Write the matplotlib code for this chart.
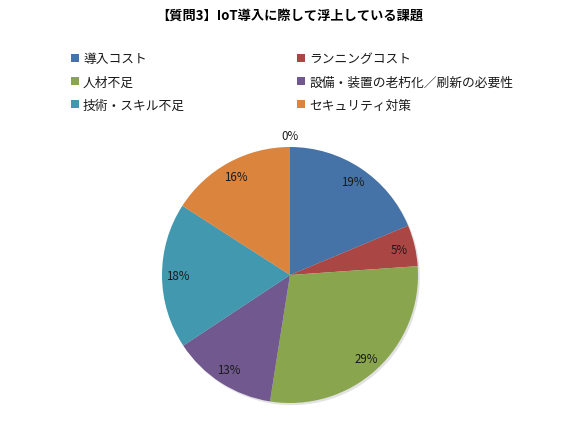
import matplotlib
matplotlib.use("Agg")
import matplotlib.pyplot as plt
from matplotlib.patches import Rectangle
import numpy as np

plt.rcParams['font.family'] = ['Noto Sans CJK JP', 'DejaVu Sans']

title = "【質問3】IoT導入に際して浮上している課題"
categories = ["導入コスト", "ランニングコスト", "人材不足", "設備・装置の老朽化／刷新の必要性",
              "技術・スキル不足", "セキュリティ対策", "その他"]
values = [18.7, 5.2, 28.6, 13.2, 18.4, 15.9, 0.0]
colors = ["#4572A7", "#AA4643", "#89A54E", "#71588F", "#4198AF", "#DB843D", "#7F7F7F"]
legend_count = 6

W, H = 580, 435
fig = plt.figure(figsize=(W / 100, H / 100), dpi=100)
fig.patch.set_facecolor("white")

# pie axes: centre (290, 276) px, radius 128 px
cx, cy, r = 290, 276, 128
ax = fig.add_axes([(cx - r) / W, (H - cy - r) / H, 2 * r / W, 2 * r / H])
wedges, texts, autotexts = ax.pie(
    values, colors=colors, startangle=90, counterclock=False, radius=1,
    autopct=lambda p: f"{p:.0f}%", pctdistance=0.88,
    textprops=dict(fontsize=8.3, color="#1a1a1a"),
    wedgeprops=dict(linewidth=0),
    shadow=dict(ox=0.01, oy=-0.012, facecolor="#a0a0a0", edgecolor="none", alpha=0.3),
)
for w, t, v in zip(wedges, autotexts, values):
    if v == 0:
        ang = np.deg2rad((w.theta1 + w.theta2) / 2)
        t.set_position((1.09 * np.cos(ang), 1.09 * np.sin(ang)))
        t.set_ha("center")
        t.set_va("center")
ax.set_xlim(-1, 1)
ax.set_ylim(-1, 1)
ax.set_aspect("equal")
ax.axis("off")

fig.text(cx / W, 1 - 16 / H, title, ha="center", va="center", fontsize=9.5, fontweight="bold")

# legend: two columns, row-wise ordering
col_x = [71, 297]
row_y = [60, 83, 106]
ms = 8
for i in range(legend_count):
    row, col = divmod(i, 2)
    x = col_x[col]
    y = row_y[row]
    fig.patches.append(Rectangle((x / W, 1 - (y + ms / 2 - 1) / H), ms / W, ms / H,
                                 transform=fig.transFigure, facecolor=colors[i],
                                 edgecolor="none"))
    fig.text((x + ms + 4) / W, 1 - y / H, categories[i], ha="left", va="center",
             fontsize=9.2, color="#1a1a1a")

fig.savefig("out.png", dpi=100)
